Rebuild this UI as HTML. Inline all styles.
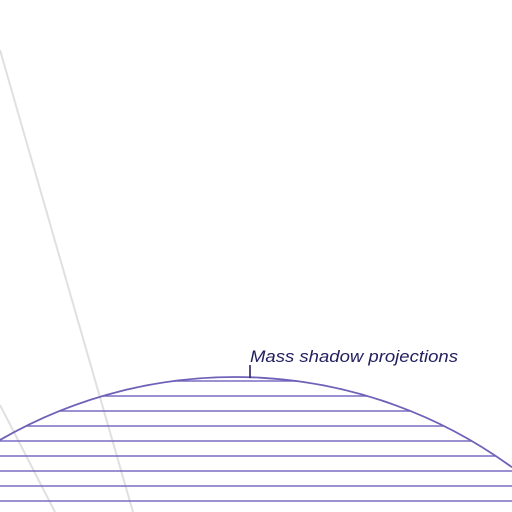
<!DOCTYPE html>
<html><head><meta charset="utf-8">
<style>html,body{margin:0;padding:0;background:#fff;width:512px;height:512px;overflow:hidden}svg{display:block}</style>
</head><body>
<svg id="chart" width="512" height="512" viewBox="0 0 512 512" xmlns="http://www.w3.org/2000/svg" overflow="hidden">
</svg>
<script>
const hatchLevels = [381, 396, 411, 426, 441, 456, 471, 486, 501];
const domeCircle = [235, 847, 470]; // cx, cy, r
const greyLines = [[0, 50, 133, 512], [0, 405, 55, 512]];
const labelPoint = [250, 378];
const labelText = "Mass shadow projections";

const svg = document.getElementById('chart');
const NS = 'http://www.w3.org/2000/svg';
function mk(t, a) { const e = document.createElementNS(NS, t); for (const k in a) e.setAttribute(k, a[k]); svg.appendChild(e); return e; }

greyLines.forEach(g => {
  const l = mk('line', {x1: g[0], y1: g[1], x2: g[2], y2: g[3], stroke: '#e0e0e0', 'stroke-width': 2});
  
  
});

const [cx, cy, r] = domeCircle;
function yAt(x) { return cy - Math.sqrt(Math.max(0, r * r - (x - cx) * (x - cx))); }
hatchLevels.forEach(y => {
  const half = Math.sqrt(Math.max(0, r * r - (cy - y) * (cy - y)));
  const x1 = Math.max(0, cx - half), x2 = Math.min(512, cx + half);
  const l = mk('line', {x1: x1, x2: x2, y1: y, y2: y, stroke: '#7a6bc4', 'stroke-width': 1.6});
  
  
});
const arc = mk('path', {d: `M0 ${yAt(0)} A ${r} ${r} 0 0 1 512 ${yAt(512)}`, fill: 'none', stroke: '#6f61b8', 'stroke-width': 1.8});



const tick = mk('line', {x1: labelPoint[0], y1: labelPoint[1], x2: labelPoint[0], y2: labelPoint[1] - 13, stroke: '#2a2466', 'stroke-width': 1.6});


const t = mk('text', {x: labelPoint[0], y: labelPoint[1] - 16, 'font-family': 'Liberation Sans, sans-serif', 'font-size': 17, 'font-style': 'italic', fill: '#22205e', textLength: 208, lengthAdjust: 'spacingAndGlyphs'});
t.textContent = labelText;


</script>
</body></html>
